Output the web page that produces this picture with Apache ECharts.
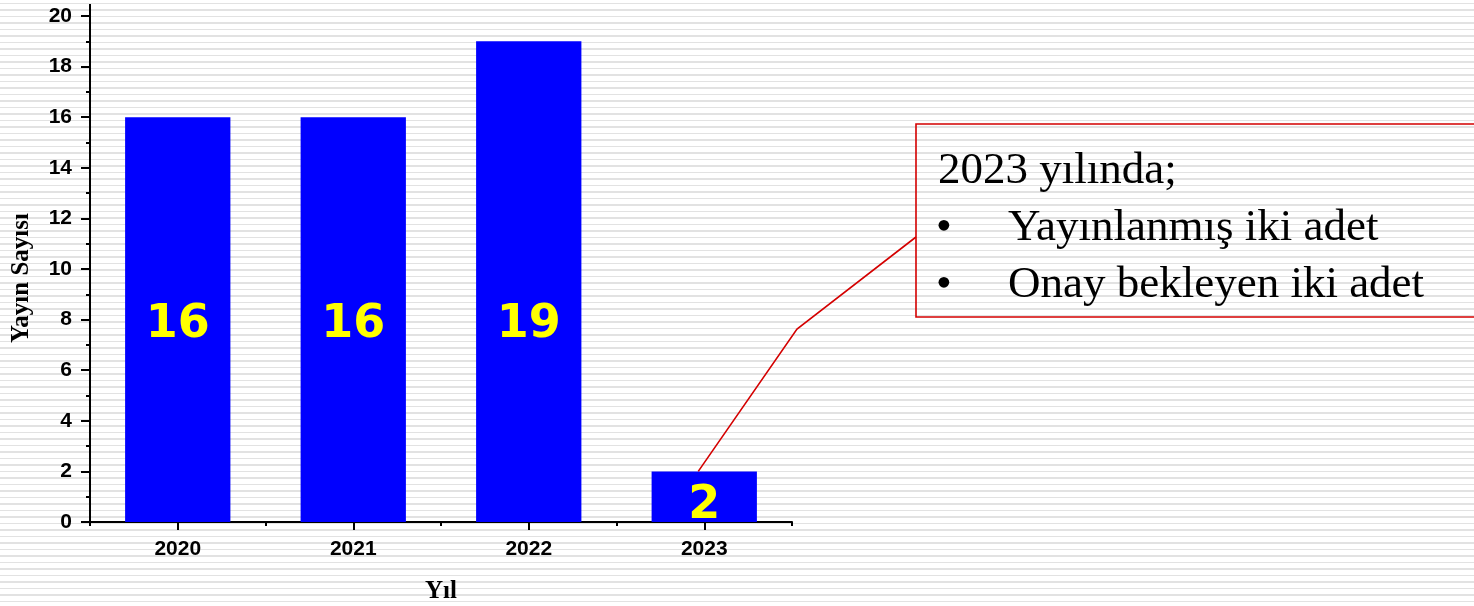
<!DOCTYPE html>
<html>
<head>
<meta charset="utf-8">
<script src="https://cdn.jsdelivr.net/npm/echarts@6/dist/echarts.min.js"></script>
<style>
  html, body { margin: 0; padding: 0; }
  body {
    width: 1474px; height: 606px; overflow: hidden;
    background: repeating-linear-gradient(to bottom, #ffffff 0px, #ffffff 2.6px, #e2e2e2 2.6px, #e2e2e2 4.4px, #ffffff 4.4px, #ffffff 6.5px);
  }
  #chart { width: 1474px; height: 606px; }
</style>
</head>
<body>
<div id="chart"></div>
<script>
const categories = ['2020', '2021', '2022', '2023'];
const values = [16, 16, 19, 2];
const yTicks = { min: 0, max: 20, interval: 2 };
const xTitle = 'Yıl';
const yTitle = 'Yayın Sayısı';
const noteTitle = '2023 yılında;';
const noteItems = ['Yayınlanmış iki adet', 'Onay bekleyen iki adet'];
const noteCategory = '2023';

const chart = echarts.init(document.getElementById('chart'), null, { renderer: 'canvas' });

const tickFont = { fontFamily: 'Liberation Sans', fontWeight: 'bold', fontSize: 21, color: '#000' };

// label vertical offsets (style) so value labels sit at the same height as in the original
const labelOffsets = [[0, 5], [0, 5], [0, 43], [0, 9]];
const barData = values.map((v, i) => ({ value: v, label: { offset: labelOffsets[i] } }));

chart.setOption({
  backgroundColor: 'transparent',
  animation: false,
  grid: { left: 90, right: 682, top: 16, bottom: 84, containLabel: false, outerBoundsMode: 'none' },
  xAxis: [
    {
      type: 'category',
      data: categories,
      axisLine: { lineStyle: { color: '#000', width: 2 } },
      axisTick: { show: true, alignWithLabel: true, length: 8, lineStyle: { color: '#000', width: 2 } },
      axisLabel: Object.assign({ margin: 17 }, tickFont),
      splitLine: { show: false }
    },
    {
      type: 'category',
      data: categories,
      position: 'bottom',
      axisLine: { show: false },
      axisTick: { show: true, alignWithLabel: false, length: 4, lineStyle: { color: '#000', width: 2 } },
      axisLabel: { show: false },
      splitLine: { show: false }
    }
  ],
  yAxis: {
    type: 'value',
    min: yTicks.min,
    max: yTicks.max,
    interval: yTicks.interval,
    axisLine: { show: true, lineStyle: { color: '#000', width: 2 } },
    axisTick: { show: true, length: 9, lineStyle: { color: '#000', width: 2 } },
    minorTick: { show: true, splitNumber: 2, length: 4, lineStyle: { color: '#000', width: 2 } },
    axisLabel: Object.assign({ margin: 18 }, tickFont),
    splitLine: { show: false },
    minorSplitLine: { show: false }
  },
  series: [{
    type: 'bar',
    data: barData,
    xAxisIndex: 0,
    barWidth: '60%',
    itemStyle: { color: '#0000ff' },
    label: {
      show: true,
      position: 'inside',
      fontFamily: 'DejaVu Sans',
      fontWeight: 'bold',
      fontSize: 46,
      color: '#ffff00'
    }
  }]
});

// callout anchored at the 2023 bar top
const idx = categories.indexOf(noteCategory);
const anchor = chart.convertToPixel({ xAxisIndex: 0, yAxisIndex: 0 }, [noteCategory, values[idx]]);
const top20 = chart.convertToPixel({ yAxisIndex: 0 }, yTicks.max);
const boxX = 916, boxY = 124, boxH = 193;
const noteFont = '45px "Liberation Serif"';
const graphics = [
  {
    // y axis title
    type: 'text',
    x: 22, y: 278,
    rotation: Math.PI / 2,
    style: { text: yTitle, font: 'bold 25px "Liberation Serif"', fill: '#000', textAlign: 'center', textVerticalAlign: 'middle' },
    z: 11
  },
  {
    // x axis title
    type: 'text',
    x: 441, y: 592,
    style: { text: xTitle, font: 'bold 25px "Liberation Serif"', fill: '#000', textAlign: 'center', textVerticalAlign: 'middle' },
    z: 11
  },
  {
    // small extension of the y axis line above the last tick, as in the original
    type: 'line',
    shape: { x1: 90, y1: top20, x2: 90, y2: top20 - 12 },
    style: { stroke: '#000', lineWidth: 2 },
    z: 10
  },
  {
    type: 'polyline',
    shape: { points: [[anchor[0] - 6, anchor[1]], [797, 329], [boxX, 237]] },
    style: { stroke: '#d40000', lineWidth: 1.6, fill: null },
    z: 10
  },
  {
    type: 'rect',
    shape: { x: boxX, y: boxY, width: 700, height: boxH },
    style: { stroke: '#d40000', lineWidth: 1.6, fill: 'transparent' },
    z: 10
  },
  {
    type: 'text',
    x: 938, y: 171,
    style: { text: noteTitle, font: noteFont, fill: '#000', textVerticalAlign: 'middle' },
    z: 11
  }
];
noteItems.forEach((t, i) => {
  const y = 228 + i * 57;
  graphics.push({
    type: 'text', x: 936, y: y,
    style: { text: '•', font: noteFont, fill: '#000', textVerticalAlign: 'middle' }, z: 11
  });
  graphics.push({
    type: 'text', x: 1008, y: y,
    style: { text: t, font: noteFont, fill: '#000', textVerticalAlign: 'middle' }, z: 11
  });
});
chart.setOption({ graphic: graphics });
</script>
</body>
</html>
